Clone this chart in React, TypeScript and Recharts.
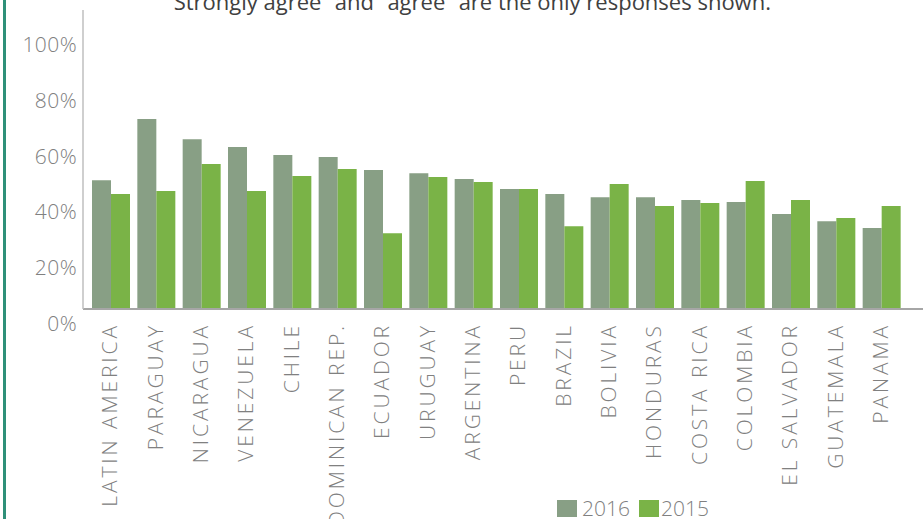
import { BarChart, Bar, XAxis, YAxis } from "recharts";

const countries = [
  "LATIN AMERICA",
  "PARAGUAY",
  "NICARAGUA",
  "VENEZUELA",
  "CHILE",
  "DOMINICAN REP.",
  "ECUADOR",
  "URUGUAY",
  "ARGENTINA",
  "PERU",
  "BRAZIL",
  "BOLIVIA",
  "HONDURAS",
  "COSTA RICA",
  "COLOMBIA",
  "EL SALVADOR",
  "GUATEMALA",
  "PANAMA",
];

const values2016 = [46.2, 68.1, 60.9, 58.1, 55.2, 54.5, 49.8, 48.7, 46.6, 43.0, 41.2, 40.1, 40.1, 39.1, 38.4, 34.1, 31.5, 29.0];
const values2015 = [41.2, 42.3, 52.0, 42.3, 47.7, 50.2, 27.2, 47.3, 45.5, 43.0, 29.7, 44.8, 36.9, 38.0, 45.9, 39.1, 32.6, 36.9];

const yTicks = [0, 20, 40, 60, 80, 100];

const title = "\u201CStrongly agree\u201D and \u201Cagree\u201D are the only responses shown.";

const FONT = "'Open Sans', 'DejaVu Sans', sans-serif";
const GREY = "#808080";

const data = countries.map((c, i) => ({
  country: c,
  y2016: values2016[i],
  y2015: values2015[i],
}));

function CountryTick(props: any) {
  const { x, y, payload } = props;
  const ty = y + 6;
  return (
    <text
      x={x - 1}
      y={ty}
      transform={`rotate(-90, ${x - 1}, ${ty})`}
      textAnchor="end"
      dy="0.36em"
      fill={GREY}
      fontSize={21}
      fontWeight={300}
      letterSpacing={2.9}
      fontFamily={FONT}
    >
      {payload.value}
    </text>
  );
}

function PercentTick(props: any) {
  const { y, payload } = props;
  return (
    <text
      x={77}
      y={y + 14}
      textAnchor="end"
      dominantBaseline="central"
      fill={GREY}
      fontSize={21}
      fontWeight={300}
      letterSpacing={0.4}
      fontFamily={FONT}
    >
      {payload.value}%
    </text>
  );
}

export default function App() {
  return (
    <div
      style={{
        position: "absolute",
        left: 0,
        top: 0,
        width: 923,
        height: 519,
        overflow: "hidden",
        background: "#fff",
        fontFamily: FONT,
      }}
    >
      <div
        style={{
          position: "absolute",
          left: 3,
          top: 0,
          width: 3,
          height: 519,
          background: "#2f9079",
        }}
      />
      <div
        style={{
          position: "absolute",
          left: 0,
          width: 923,
          top: -11,
          textAlign: "center",
          paddingLeft: 14,
          boxSizing: "border-box",
          fontSize: 22,
          lineHeight: "24px",
          color: "#404040",
          whiteSpace: "nowrap",
        }}
      >
        {title}
      </div>

      <BarChart
        width={923}
        height={519}
        data={data}
        margin={{ top: 10, right: 0, bottom: 0, left: 0 }}
        barCategoryGap={4}
        barGap={0}
      >
        <XAxis
          dataKey="country"
          height={210}
          interval={0}
          tickLine={false}
          axisLine={{ stroke: "#a6a6a6", strokeWidth: 2 }}
          tick={<CountryTick />}
          padding={{ left: 5, right: 19 }}
        />
        <YAxis
          width={83}
          domain={[0, 107.2]}
          ticks={yTicks}
          tickLine={false}
          axisLine={{ stroke: "#bfbfbf", strokeWidth: 1.5 }}
          tick={<PercentTick />}
        />
        <Bar dataKey="y2016" fill="#889f85" isAnimationActive={false} />
        <Bar dataKey="y2015" fill="#7ab347" isAnimationActive={false} />
      </BarChart>

      <div
        style={{
          position: "absolute",
          left: 557,
          top: 497,
          display: "flex",
          alignItems: "center",
          fontSize: 21,
          fontWeight: 300,
          color: GREY,
          lineHeight: "22px",
        }}
      >
        <span style={{ width: 20, height: 17, background: "#889f85", display: "inline-block", marginRight: 5 }} />
        <span style={{ marginRight: 9 }}>2016</span>
        <span style={{ width: 20, height: 17, background: "#7ab347", display: "inline-block", marginRight: 2 }} />
        <span>2015</span>
      </div>
    </div>
  );
}
